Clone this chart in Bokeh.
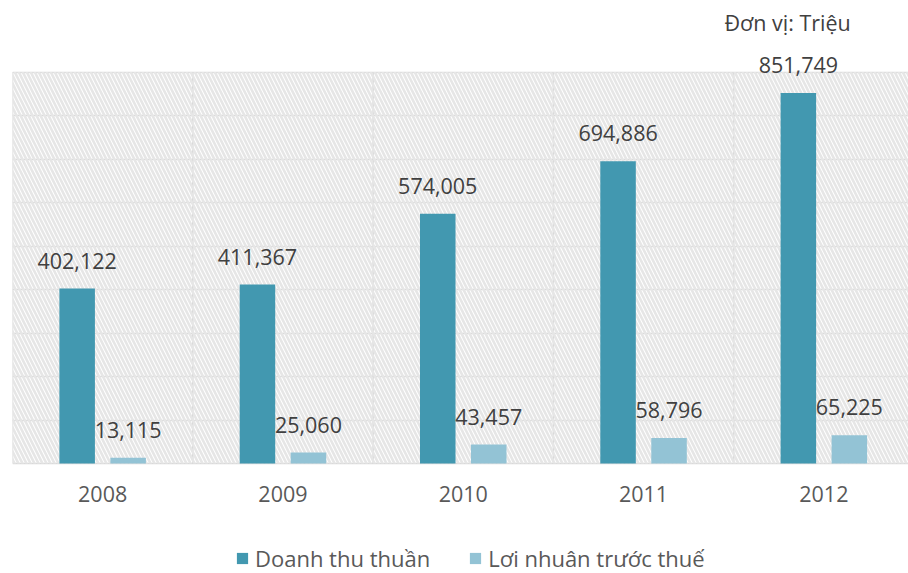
from bokeh.plotting import figure
from bokeh.models import (ColumnDataSource, Range1d, FixedTicker, LabelSet, Label,
                          BoxAnnotation, Legend, LegendItem)
from bokeh.core.properties import value
from bokeh.embed import file_html
from bokeh.resources import INLINE

years = ["2008", "2009", "2010", "2011", "2012"]
revenue = [402122, 411367, 574005, 694886, 851749]
profit = [13115, 25060, 43457, 58796, 65225]
series_names = ["Doanh thu thuần", "Lơi nhuân trước thuế"]
unit_text = "Đơn vị: Triệu"
y_ticks = [0, 100000, 200000, 300000, 400000, 500000, 600000, 700000, 800000, 900000]
y_max = 900000

DARK = "#4298b0"
LIGHT = "#93c3d5"
GRID = "#d9d9d9"
FONT = "Open Sans"
FS = "21.5px"

W, H = 908, 573
LEFT = 12
Y0_PX = 463          # canvas row of value 0
YMAX_PX = 71.5       # canvas row of y_max
CAT_PX = 180.3       # pixels per category

per_px = y_max / (Y0_PX - YMAX_PX)
y_start = -(H - Y0_PX) * per_px
y_end = y_max + YMAX_PX * per_px

n = len(years)
centers = [i + 0.5 for i in range(n)]
off = 0.1414
bw = 0.197

src = ColumnDataSource(dict(
    xd=[c - off for c in centers],
    xl=[c + off for c in centers],
    rev=revenue,
    pro=profit,
    rev_t=[f"{v:,}" for v in revenue],
    pro_t=[f"{v:,}" for v in profit],
))
ysrc = ColumnDataSource(dict(x=centers, y=[0] * n, t=years))
bsrc = ColumnDataSource(dict(x=list(range(n + 1)), y0=[0] * (n + 1), y1=[y_max] * (n + 1)))

p = figure(width=W, height=H, output_backend="svg", toolbar_location=None,
           x_range=Range1d(0, (W - LEFT) / CAT_PX), y_range=Range1d(y_start, y_end),
           x_axis_location=None, y_axis_location=None,
           min_border_left=LEFT, min_border_right=0, min_border_top=0, min_border_bottom=0)
p.outline_line_color = None
p.background_fill_color = "white"
p.border_fill_color = "white"

# hatched plot background
p.add_layout(BoxAnnotation(bottom=0, top=y_max, fill_alpha=0, line_color=None,
                           hatch_pattern="\\", hatch_color="#e6e6e6",
                           hatch_scale=8, hatch_weight=2.6, level="underlay"))

p.xgrid.visible = False
p.ygrid.ticker = FixedTicker(ticks=y_ticks)
p.ygrid.grid_line_color = GRID
p.ygrid.grid_line_width = 1.6
p.segment(x0="x", y0="y0", x1="x", y1="y1", source=bsrc, line_color=GRID, line_width=1.6,
          level="underlay")

r1 = p.vbar(x="xd", top="rev", width=bw, source=src, color=DARK, line_color=None)
r2 = p.vbar(x="xl", top="pro", width=bw, source=src, color=LIGHT, line_color=None)

for tcol, xcol, ycol in (("rev_t", "xd", "rev"), ("pro_t", "xl", "pro")):
    p.add_layout(LabelSet(x=xcol, y=ycol, text=tcol, source=src, text_align="center",
                          text_baseline="alphabetic", y_offset=20,
                          text_font=value(FONT), text_font_size=FS, text_color="#404040"))

# category (year) labels below the baseline
p.add_layout(LabelSet(x="x", y="y", text="t", source=ysrc, text_align="center",
                      text_baseline="alphabetic", y_offset=-38,
                      text_font=value(FONT), text_font_size=FS, text_color="#595959"))

legend = Legend(items=[LegendItem(label=series_names[0], renderers=[r1]),
                       LegendItem(label=series_names[1], renderers=[r2])],
                location=(223, 0), orientation="horizontal",
                glyph_width=14, glyph_height=14, label_standoff=6, spacing=38,
                padding=0, margin=0, border_line_color=None, background_fill_alpha=0,
                label_text_font=FONT, label_text_font_size="22px", label_text_color="#595959")
p.add_layout(legend)

p.add_layout(Label(x=712, y=H - 21.5, x_units="screen", y_units="screen", text=unit_text,
                   text_baseline="alphabetic", text_font=FONT, text_font_size=FS,
                   text_color="#404040"))

open("out.html", "w").write(file_html(p, INLINE))
